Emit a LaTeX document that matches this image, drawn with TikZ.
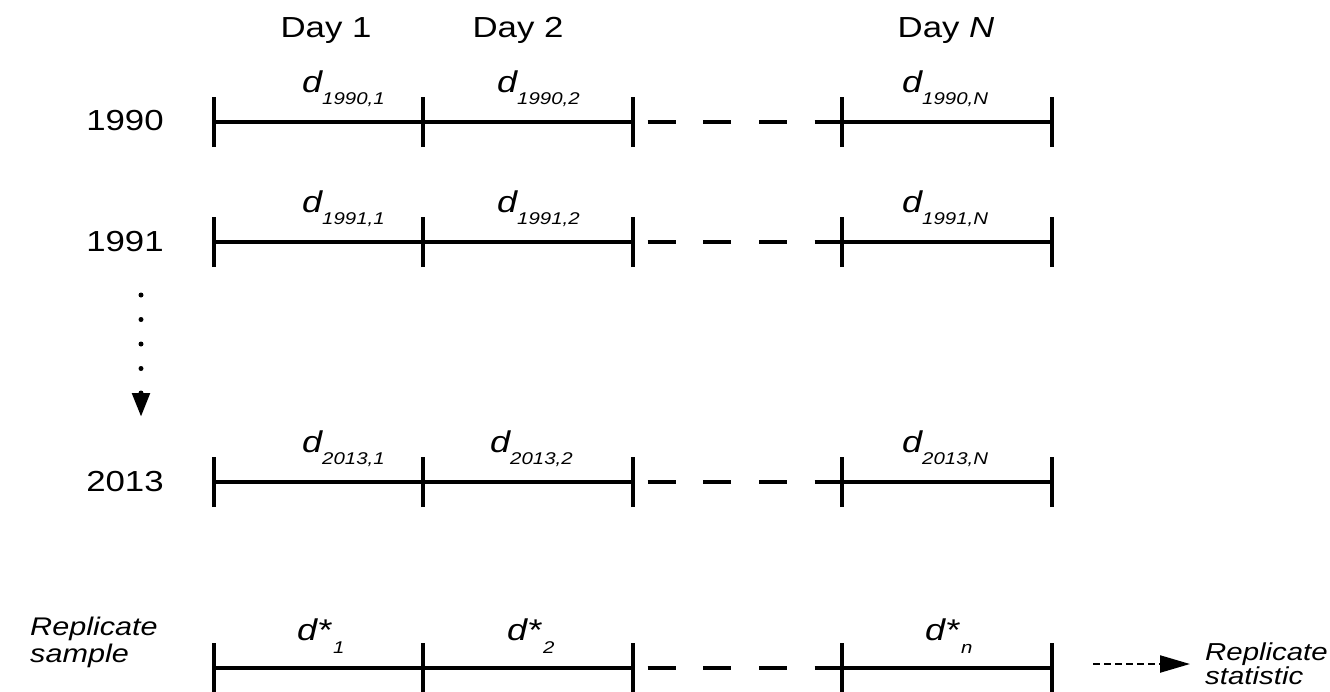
\documentclass[tikz,border=0pt]{standalone}
\usepackage{fontspec}
\setmainfont[FakeStretch=1.2]{Liberation Sans}
\usetikzlibrary{arrows.meta}
\newcommand\dsub[2]{{\fontsize{30}{30}\selectfont\itshape #1}\raisebox{-12pt}{\fontsize{17}{17}\selectfont\itshape #2}}
\newcommand\dstar[2]{{\fontsize{30}{30}\selectfont\itshape #1}\raisebox{-13pt}{\fontsize{17}{17}\selectfont\itshape #2}}
\begin{document}
\begin{tikzpicture}[x=1pt,y=-1pt,
  seg/.style={line width=3.2pt},
  tickmark/.style={line width=3.2pt},
  gapline/.style={line width=3.2pt, dash pattern=on 28pt off 27.67pt, dash phase=41pt},
  lbl/.style={font=\fontsize{29}{29}\selectfont, inner sep=0pt, anchor=base},
  dlab/.style={inner sep=0pt, anchor=base west},
  dotarrow/.style={line width=5pt, line cap=round, dash pattern=on 0pt off 24.5pt, -{Triangle[length=24pt,width=17pt]}},
  statarrow/.style={line width=2.2pt, dash pattern=on 7pt off 4pt, -{Triangle[length=30pt,width=17pt]}},
]
\useasboundingbox (0,0) rectangle (1330,691);

% timelines
\foreach \rw/\yy in {a/122, b/242, c/482, s/668} {
  \foreach \i/\xx in {0/214,1/423,2/633,3/842,4/1052} { \coordinate (\rw\i) at (\xx,\yy); }
  \draw[seg] (\rw0) -- (\rw2);
  \draw[gapline] (\rw2) -- (\rw3);
  \draw[seg] (\rw3) -- (\rw4);
  \foreach \i in {0,...,4} \draw[tickmark] ([yshift=-25pt]\rw\i) -- ([yshift=25pt]\rw\i);
}

% day headers
\node[lbl] (day1) at (326,37) {Day 1};
\node[lbl] (day2) at (518,37) {Day 2};
\node[lbl] (dayN) at (946,37) {Day \textit{N}};

% year labels
\node[lbl] (y1990) at (125,130) {1990};
\node[lbl] (y1991) at (125,251) {1991};
\node[lbl] (y2013) at (125,491) {2013};

% cell labels
\node[dlab] (la1) at (302,92) {\dsub{d}{1990,1}};
\node[dlab] (la2) at (497,92) {\dsub{d}{1990,2}};
\node[dlab] (laN) at (902,92) {\dsub{d}{1990,N}};
\node[dlab] (lb1) at (302,212) {\dsub{d}{1991,1}};
\node[dlab] (lb2) at (497,212) {\dsub{d}{1991,2}};
\node[dlab] (lbN) at (902,212) {\dsub{d}{1991,N}};
\node[dlab] (lc1) at (302,452) {\dsub{d}{2013,1}};
\node[dlab] (lc2) at (490,452) {\dsub{d}{2013,2}};
\node[dlab] (lcN) at (902,452) {\dsub{d}{2013,N}};
\node[dlab] (ls1) at (297,640) {\dstar{d*}{\hspace{2pt}1}};
\node[dlab] (ls2) at (507,640) {\dstar{d*}{\hspace{2pt}2}};
\node[dlab] (lsN) at (925,640) {\dstar{d*}{\hspace{2pt}n}};

% vertical dotted arrow
\coordinate (dtop) at (141,295);
\coordinate (dbot) at (141,417);
\draw[dotarrow] (dtop) -- (dbot);

% replicate sample label
\node[inner sep=0pt, anchor=base west, align=left, font=\fontsize{25.5}{27}\selectfont\itshape] (rsample) at (30,662) {Replicate\\sample};

% replicate statistic
\node[inner sep=0pt, anchor=west, align=left, font=\fontsize{24.5}{21}\selectfont\itshape] (rstat) at (1205,664) {Replicate\\statistic};
\coordinate (ra) at (1093,664);
\draw[statarrow, shorten >=15pt] (ra) -- (rstat.west);
\end{tikzpicture}
\end{document}
